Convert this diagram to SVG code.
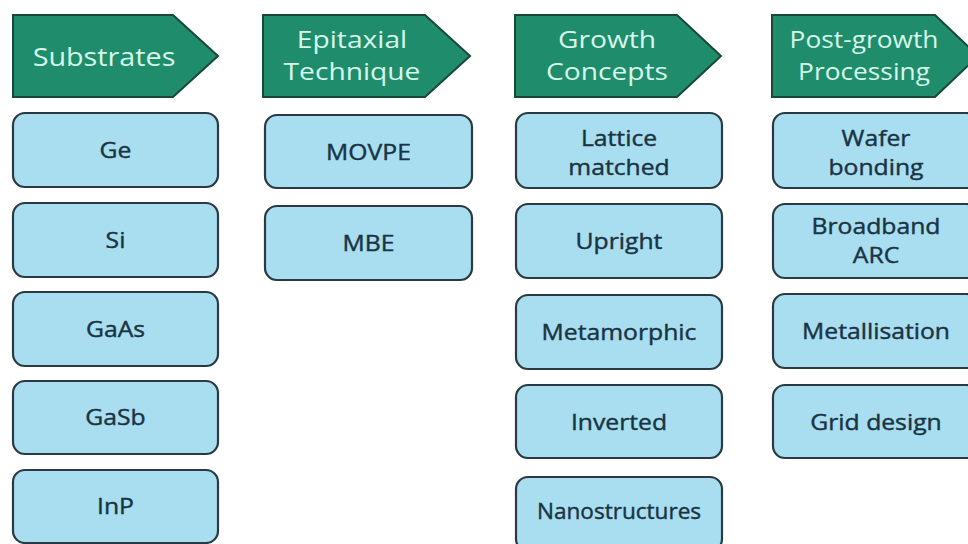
<svg xmlns="http://www.w3.org/2000/svg" width="968" height="544" viewBox="0 0 968 544">
<style>
.hd{fill:#1f8d6c;stroke:#17483a;stroke-width:2;stroke-linejoin:miter}
.ht{font-family:"Open Sans","Liberation Sans",sans-serif;font-size:25px;fill:#d6f7e9;text-anchor:middle}
.ht2{font-family:"Open Sans","Liberation Sans",sans-serif;font-size:23.5px;fill:#d6f7e9;text-anchor:middle}
.bx{fill:#a8def0;stroke:#2a3a40;stroke-width:2.2}
.bt{font-family:"Open Sans","Liberation Sans",sans-serif;font-size:21.5px;fill:#1a3342;stroke:#1a3342;stroke-width:0.4;text-anchor:middle;font-weight:400}
</style>
<rect width="968" height="544" fill="#ffffff"/>
<g id="connectors"/>
<!-- Column 1 -->
<g id="h-substrates"><path class="hd" d="M13,15 H173 L218,56 L173,97 H13 Z"/><text class="ht" transform="translate(104,66) scale(1.15,1)">Substrates</text></g>
<g id="n-ge"><rect class="bx" x="13" y="113" width="205" height="74" rx="12"/><text class="bt" transform="translate(115.5,158) scale(1.15,1)">Ge</text></g>
<g id="n-si"><rect class="bx" x="13" y="203" width="205" height="74" rx="12"/><text class="bt" transform="translate(115.5,248) scale(1.15,1)">Si</text></g>
<g id="n-gaas"><rect class="bx" x="13" y="292" width="205" height="74" rx="12"/><text class="bt" transform="translate(115.5,337) scale(1.15,1)">GaAs</text></g>
<g id="n-gasb"><rect class="bx" x="13" y="381" width="205" height="73" rx="12"/><text class="bt" transform="translate(115.5,425) scale(1.15,1)">GaSb</text></g>
<g id="n-inp"><rect class="bx" x="13" y="470" width="205" height="73" rx="12"/><text class="bt" transform="translate(115.5,514) scale(1.15,1)">InP</text></g>
<!-- Column 2 -->
<g id="h-epitaxial"><path class="hd" d="M263,15 H425 L470,56 L425,97 H263 Z"/><text class="ht2" transform="translate(352,48) scale(1.2,1)">Epitaxial</text><text class="ht2" transform="translate(352,80) scale(1.2,1)">Technique</text></g>
<g id="n-movpe"><rect class="bx" x="265" y="115" width="207" height="73" rx="12"/><text class="bt" transform="translate(368.5,160) scale(1.15,1)">MOVPE</text></g>
<g id="n-mbe"><rect class="bx" x="265" y="206" width="207" height="74" rx="12"/><text class="bt" transform="translate(368.5,251) scale(1.15,1)">MBE</text></g>
<!-- Column 3 -->
<g id="h-growth"><path class="hd" d="M515,15 H677 L721,56 L677,97 H515 Z"/><text class="ht2" transform="translate(607,48) scale(1.2,1)">Growth</text><text class="ht2" transform="translate(607,80) scale(1.2,1)">Concepts</text></g>
<g id="n-lattice"><rect class="bx" x="516" y="113" width="206" height="75" rx="12"/><text class="bt" transform="translate(619,146) scale(1.15,1)">Lattice</text><text class="bt" transform="translate(619,175) scale(1.15,1)">matched</text></g>
<g id="n-upright"><rect class="bx" x="516" y="204" width="206" height="74" rx="12"/><text class="bt" transform="translate(619,249) scale(1.15,1)">Upright</text></g>
<g id="n-metamorphic"><rect class="bx" x="516" y="295" width="206" height="74" rx="12"/><text class="bt" transform="translate(619,340) scale(1.15,1)">Metamorphic</text></g>
<g id="n-inverted"><rect class="bx" x="516" y="385" width="206" height="73" rx="12"/><text class="bt" transform="translate(619,430) scale(1.15,1)">Inverted</text></g>
<g id="n-nano"><rect class="bx" x="516" y="477" width="206" height="74" rx="12"/><text class="bt" transform="translate(619,519) scale(1.05,1)">Nanostructures</text></g>
<!-- Column 4 -->
<g id="h-postgrowth"><path class="hd" d="M772,15 H935 L978,56 L935,97 H772 Z"/><text class="ht2" transform="translate(864,48) scale(1.12,1)">Post-growth</text><text class="ht2" transform="translate(864,80) scale(1.12,1)">Processing</text></g>
<g id="n-wafer"><rect class="bx" x="773" y="113" width="206" height="75" rx="12"/><text class="bt" transform="translate(876,146) scale(1.15,1)">Wafer</text><text class="bt" transform="translate(876,175) scale(1.15,1)">bonding</text></g>
<g id="n-arc"><rect class="bx" x="773" y="204" width="206" height="74" rx="12"/><text class="bt" transform="translate(876,234) scale(1.15,1)">Broadband</text><text class="bt" transform="translate(876,263) scale(1.15,1)">ARC</text></g>
<g id="n-metal"><rect class="bx" x="773" y="294" width="206" height="74" rx="12"/><text class="bt" transform="translate(876,339) scale(1.15,1)">Metallisation</text></g>
<g id="n-grid"><rect class="bx" x="773" y="385" width="206" height="73" rx="12"/><text class="bt" transform="translate(876,430) scale(1.15,1)">Grid design</text></g>
</svg>
